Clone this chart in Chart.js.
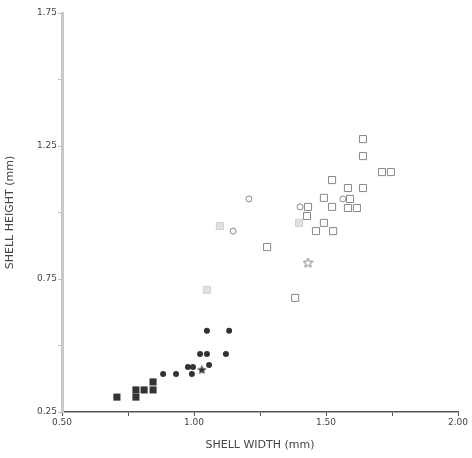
<!DOCTYPE html>
<html>
<head>
<meta charset="utf-8">
<script src="https://cdn.jsdelivr.net/npm/chart.js@4.4.1/dist/chart.umd.min.js"></script>
<style>
  html, body { margin: 0; padding: 0; background: #fff; }
  #wrap { width: 472px; height: 458px; }
</style>
</head>
<body>
<div id="wrap"><canvas id="myChart"></canvas></div>
<script>
// shell width / height (mm)
var filledSquareW = [0.708, 0.780, 0.780, 0.811, 0.845, 0.845];
var filledSquareH = [0.306, 0.333, 0.306, 0.333, 0.333, 0.363];

var filledCircleW = [0.883, 0.932, 0.977, 0.996, 0.992, 1.023, 1.049, 1.057, 1.049, 1.133, 1.121];
var filledCircleH = [0.393, 0.393, 0.419, 0.419, 0.393, 0.468, 0.468, 0.427, 0.555, 0.555, 0.468];

var filledStarW = [1.030];
var filledStarH = [0.408];

var openSquareW = [1.640, 1.640, 1.712, 1.746, 1.523, 1.583, 1.640, 1.492, 1.591, 1.523, 1.583, 1.617, 1.432, 1.428, 1.462, 1.492, 1.527, 1.277, 1.383];
var openSquareH = [1.276, 1.212, 1.152, 1.152, 1.122, 1.092, 1.092, 1.055, 1.051, 1.021, 1.017, 1.017, 1.021, 0.987, 0.930, 0.961, 0.930, 0.870, 0.679];

var greySquareW = [1.398, 1.098, 1.049];
var greySquareH = [0.961, 0.949, 0.709];

var openCircleW = [1.208, 1.148, 1.402, 1.564];
var openCircleH = [1.051, 0.930, 1.021, 1.051];

var openStarW = [1.432];
var openStarH = [0.810];

var xTickLabels = [0.5, 1.0, 1.5, 2.0];
var yTickLabels = [0.25, 0.75, 1.25, 1.75];

toPoints = function (xs, ys) {
    return xs.map(function (x, i) { return {x: x, y: ys[i]}; });
}

// little 5 point star as a marker image
makeStar = function (fill) {
    var c = document.createElement('canvas');
    c.width = 11; c.height = 11;
    var g = c.getContext('2d');
    g.beginPath();
    for (var i = 0; i < 10; i++) {
        var r = i % 2 === 0 ? 5 : 2.2;
        var a = -Math.PI / 2 + i * Math.PI / 5;
        g.lineTo(5.5 + r * Math.cos(a), 5.5 + r * Math.sin(a));
    }
    g.closePath();
    if (fill) {
        g.fillStyle = '#333';
        g.fill();
    } else {
        g.strokeStyle = '#777';
        g.lineWidth = 1;
        g.stroke();
    }
    return c;
}

var tickFont = {family: 'DejaVu Sans', size: 9};
var titleFont = {family: 'DejaVu Sans', size: 11};

new Chart('myChart', {
    type: 'scatter',
    data: {
        datasets: [
            {data: toPoints(filledSquareW, filledSquareH), pointStyle: 'rect', pointRadius: 5, backgroundColor: '#333', borderColor: '#333', borderWidth: 0},
            {data: toPoints(filledCircleW, filledCircleH), pointStyle: 'circle', pointRadius: 3, backgroundColor: '#333', borderColor: '#333', borderWidth: 0},
            {data: toPoints(filledStarW, filledStarH), pointStyle: makeStar(true)},
            {data: toPoints(openSquareW, openSquareH), pointStyle: 'rect', pointRadius: 5, backgroundColor: '#fff', borderColor: '#888', borderWidth: 1},
            {data: toPoints(greySquareW, greySquareH), pointStyle: 'rect', pointRadius: 5, backgroundColor: '#e2e2e2', borderColor: '#d0d0d0', borderWidth: 1},
            {data: toPoints(openCircleW, openCircleH), pointStyle: 'circle', pointRadius: 3, backgroundColor: '#fff', borderColor: '#888', borderWidth: 1},
            {data: toPoints(openStarW, openStarH), pointStyle: makeStar(false)}
        ]
    },
    options: {
        responsive: true,
        maintainAspectRatio: false,
        animation: false,
        layout: {padding: {top: 13, right: 14, left: 0, bottom: 0}},
        plugins: {legend: {display: false}, tooltip: {enabled: false}},
        scales: {
            x: {
                type: 'linear', min: 0.5, max: 2.0,
                afterFit: function (s) { s.height = 46; },
                border: {color: '#555', width: 1.5},
                grid: {drawOnChartArea: false, tickLength: 4, color: '#555'},
                ticks: {
                    stepSize: 0.25, color: '#444', font: tickFont, maxRotation: 0, padding: 1,
                    callback: function (v) {
                        return xTickLabels.indexOf(Math.round(v * 100) / 100) >= 0 ? v.toFixed(2) : '';
                    }
                },
                title: {display: true, text: 'SHELL WIDTH (mm)', color: '#444', font: titleFont, padding: {top: 4, bottom: 6}}
            },
            y: {
                type: 'linear', min: 0.25, max: 1.75,
                afterFit: function (s) { s.width = 62; },
                border: {color: '#c8c8c8', width: 3},
                grid: {drawOnChartArea: false, tickLength: 4, color: '#bbb'},
                ticks: {
                    stepSize: 0.25, color: '#444', font: tickFont, padding: 1,
                    callback: function (v) {
                        return yTickLabels.indexOf(Math.round(v * 100) / 100) >= 0 ? v.toFixed(2) : '';
                    }
                },
                title: {display: true, text: 'SHELL HEIGHT (mm)', color: '#444', font: titleFont, padding: {top: 4, bottom: 4}}
            }
        }
    }
});
</script>
</body>
</html>
